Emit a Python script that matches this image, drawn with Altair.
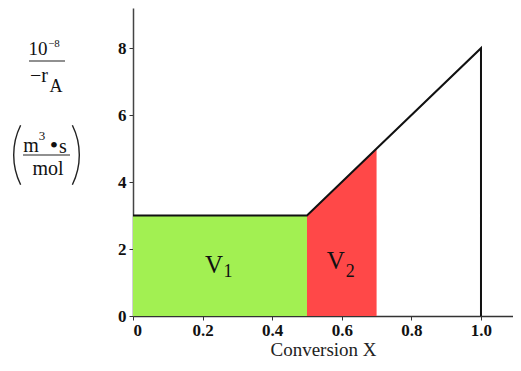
import altair as alt
import pandas as pd
import math

# Levenspiel plot data
line_x = [0.0, 0.5, 1.0, 1.0]
line_y = [3.0, 3.0, 8.0, 0.0]
green_x = [0.0, 0.5]
green_y = [3.0, 3.0]
red_x = [0.5, 0.7]
red_y = [3.0, 5.0]
x_ticks = [0, 0.2, 0.4, 0.6, 0.8, 1.0]
y_ticks = [0, 2, 4, 6, 8]

label_text = ["V", "1", "V", "2"]
label_x = [0.233, 0.273, 0.583, 0.624]
label_y = [1.52, 1.31, 1.64, 1.31]
label_size = [25, 18, 25, 18]

SERIF = "Liberation Serif"
GREEN = "#a2f052"
RED = "#ff4848"

xs = alt.Scale(domain=[0, 1.092], nice=False, zero=False)
ys = alt.Scale(domain=[0, 9.2], nice=False)

x_axis = alt.Axis(values=x_ticks, labelExpr="datum.value == 0 ? '0' : format(datum.value, '.1f')",
                  title="Conversion X", titleFont=SERIF, titleFontSize=19, titleFontWeight="normal",
                  titleColor="#222", titlePadding=2, labelFont=SERIF, labelFontSize=17,
                  labelFontWeight="bold", labelColor="#111", tickSize=4, tickColor="#333",
                  domainColor="#333", domainWidth=1.5, grid=False, labelPadding=2)
y_axis = alt.Axis(values=y_ticks, title=None, labelFont=SERIF, labelFontSize=17,
                  labelFontWeight="bold", labelColor="#111", tickSize=4, tickColor="#333",
                  domainColor="#444", domainWidth=1.5, grid=False, labelPadding=3)

green_df = pd.DataFrame({"x": green_x, "y": green_y})
red_df = pd.DataFrame({"x": red_x, "y": red_y})
line_df = pd.DataFrame({"x": line_x, "y": line_y, "i": list(range(len(line_x)))})
lab_df = pd.DataFrame({"t": label_text, "x": label_x, "y": label_y, "s": label_size})

green = alt.Chart(green_df).mark_area(color=GREEN, opacity=1).encode(
    x=alt.X("x:Q", scale=xs, axis=x_axis), y=alt.Y("y:Q", scale=ys, axis=y_axis))
red = alt.Chart(red_df).mark_area(color=RED, opacity=1).encode(
    x=alt.X("x:Q", scale=xs), y=alt.Y("y:Q", scale=ys))
line = alt.Chart(line_df).mark_line(color="#111", strokeWidth=2).encode(
    x=alt.X("x:Q", scale=xs), y=alt.Y("y:Q", scale=ys), order="i:Q")
labels = alt.Chart(lab_df).mark_text(font=SERIF, color="#111", baseline="middle").encode(
    x=alt.X("x:Q", scale=xs), y=alt.Y("y:Q", scale=ys), text="t:N",
    size=alt.Size("s:Q", scale=None, legend=None))

# y-axis unit annotation (pixel positions relative to plot origin)
def txt(t, x, y, size, **kw):
    return alt.Chart(pd.DataFrame({"t": [t]})).mark_text(
        font=SERIF, fontSize=size, color="#111", baseline="middle", **kw).encode(
        x=alt.value(x), y=alt.value(y), text="t:N")

def rule(x1, x2, y):
    return alt.Chart(pd.DataFrame({"a": [0]})).mark_rule(color="#222", strokeWidth=1.2).encode(
        x=alt.value(x1), x2=alt.value(x2), y=alt.value(y))

R = 67.8
half = math.asin(30 / R)

def paren(cx, cy, mid):
    return alt.Chart(pd.DataFrame({"a": [0]})).mark_arc(
        radius=R, radius2=R - 1.4, theta=mid - half, theta2=mid + half, color="#222"
    ).encode(x=alt.value(cx), y=alt.value(cy))

annot = [
    txt("10", -95, 41, 19),
    txt("−8", -79, 36, 11),
    rule(-104, -68, 53),
    txt("−r", -94, 68, 20),
    txt("A", -77, 79, 18),
    paren(-120 + R, 147, 1.5 * math.pi),
    paren(-53 - R, 147, 0.5 * math.pi),
    txt("m", -102, 138, 20),
    txt("3", -91, 128, 13),
    txt("•", -79, 138, 24),
    txt("s", -70, 139, 20),
    rule(-110, -63, 147),
    txt("mol", -85, 161, 20),
]

chart = alt.layer(green, red, line, labels, *annot).properties(
    width=380, height=308,
    autosize=alt.AutoSizeParams(type="none"),
    padding={"left": 125, "top": 0, "right": 0, "bottom": 47},
).configure_view(stroke=None)

chart.save("out.html", embed_options={"renderer": "svg", "actions": False})
